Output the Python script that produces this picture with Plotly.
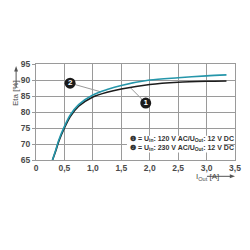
import plotly.graph_objects as go

# Data
x_black = [0.29, 0.35, 0.40, 0.50, 0.60, 0.75, 1.00, 1.25, 1.50, 2.00, 2.50, 3.00, 3.35]
y_black = [65.0, 68.0, 70.8, 75.0, 78.5, 81.8, 84.7, 86.2, 87.2, 88.6, 89.3, 89.6, 89.7]
x_cyan = [0.29, 0.35, 0.40, 0.50, 0.60, 0.75, 1.00, 1.25, 1.50, 2.00, 2.50, 3.00, 3.35]
y_cyan = [65.0, 68.3, 71.2, 75.5, 79.0, 82.3, 85.3, 87.0, 88.3, 90.0, 90.7, 91.3, 91.6]

x_ticks = [0, 0.5, 1.0, 1.5, 2.0, 2.5, 3.0, 3.5]
x_ticktext = ["0", "0,5", "1,0", "1,5", "2,0", "2,5", "3,0", "3,5"]
y_ticks = [65, 70, 75, 80, 85, 90, 95]

# callouts: (label, marker x, marker y, curve x, curve y)
callouts = [("2", 0.60, 89.0, 1.14, 86.3), ("1", 1.93, 82.8, 1.66, 87.6)]

legend_lines = [
    "❶ = U<sub>in</sub>: 120 V AC/U<sub>Out</sub>: 12 V DC",
    "❷ = U<sub>in</sub>: 230 V AC/U<sub>Out</sub>: 12 V DC",
]

FONT = "Liberation Sans"
GRID = "#9a9a9a"
TXT = "#4a4a4a"
ARROW = "#555555"

fig = go.Figure()
fig.add_trace(go.Scatter(x=x_black, y=y_black, mode="lines", line=dict(color="#1c1c1c", width=1.6, shape="spline", smoothing=0.8), hoverinfo="skip"))
fig.add_trace(go.Scatter(x=x_cyan, y=y_cyan, mode="lines", line=dict(color="#2596aa", width=1.6, shape="spline", smoothing=0.8), hoverinfo="skip"))

for lab, mx, my, cx, cy in callouts:
    fig.add_shape(type="line", x0=mx, y0=my, x1=cx, y1=cy, line=dict(color="#999999", width=1), layer="below")
fig.add_trace(go.Scatter(
    x=[c[1] for c in callouts], y=[c[2] for c in callouts], mode="markers+text",
    marker=dict(size=11, color="#1a1a1a"), text=[c[0] for c in callouts],
    textposition="middle center", textfont=dict(color="white", size=8, family=FONT, weight="bold"),
    hoverinfo="skip", cliponaxis=False))

# legend box
fig.add_shape(type="rect", xref="paper", yref="paper", x0=0.457, x1=0.944, y0=0.077, y1=0.253,
              fillcolor="white", line=dict(width=0), layer="above")
for i, t in enumerate(legend_lines):
    fig.add_annotation(xref="paper", yref="paper", x=0.462, y=0.215 - i * 0.085, text=t,
                       showarrow=False, xanchor="left", yanchor="middle",
                       font=dict(family=FONT, size=7, color="#333333", weight="bold"))

# axis titles
fig.add_annotation(xref="paper", yref="paper", x=-0.135, y=0.85, text="Eta [%]", textangle=-90,
                   showarrow=False, font=dict(family=FONT, size=8, color=TXT))
fig.add_annotation(xref="paper", yref="paper", x=0.929, y=-0.25, text="I<sub>Out</sub> [A]",
                   showarrow=False, font=dict(family=FONT, size=8, color=TXT))

# axis arrows drawn as shapes
fig.add_shape(type="line", xref="paper", yref="paper", x0=-0.10, x1=-0.10, y0=0.75, y1=0.93,
              line=dict(color=ARROW, width=1))
fig.add_shape(type="path", xref="paper", yref="paper",
              path="M -0.1097 0.923 L -0.0903 0.923 L -0.10 0.978 Z",
              fillcolor=ARROW, line=dict(width=0))
fig.add_shape(type="line", xref="paper", yref="paper", x0=0.859, x1=0.98, y0=-0.17, y1=-0.17,
              line=dict(color=ARROW, width=1))
fig.add_shape(type="path", xref="paper", yref="paper",
              path="M 0.974 -0.149 L 0.974 -0.191 L 1.0 -0.17 Z",
              fillcolor=ARROW, line=dict(width=0))

fig.update_layout(
    width=250, height=250, margin=dict(l=36, r=8.5, t=63.5, b=89.5),
    paper_bgcolor="white", plot_bgcolor="white", showlegend=False,
)
fig.update_xaxes(range=[0, 3.5], tickvals=x_ticks, ticktext=x_ticktext, showgrid=True, gridcolor=GRID,
                 gridwidth=1, showline=True, linecolor=GRID, mirror=True, zeroline=False,
                 ticks="", tickfont=dict(family=FONT, size=8.5, color=TXT, weight="bold"))
fig.update_yaxes(range=[65, 95], tickvals=y_ticks, showgrid=True, gridcolor=GRID, gridwidth=1,
                 showline=True, linecolor=GRID, mirror=True, zeroline=False,
                 ticks="outside", ticklen=3, tickcolor=GRID,
                 tickfont=dict(family=FONT, size=8.5, color=TXT, weight="bold"))

fig.write_html("out.html")
